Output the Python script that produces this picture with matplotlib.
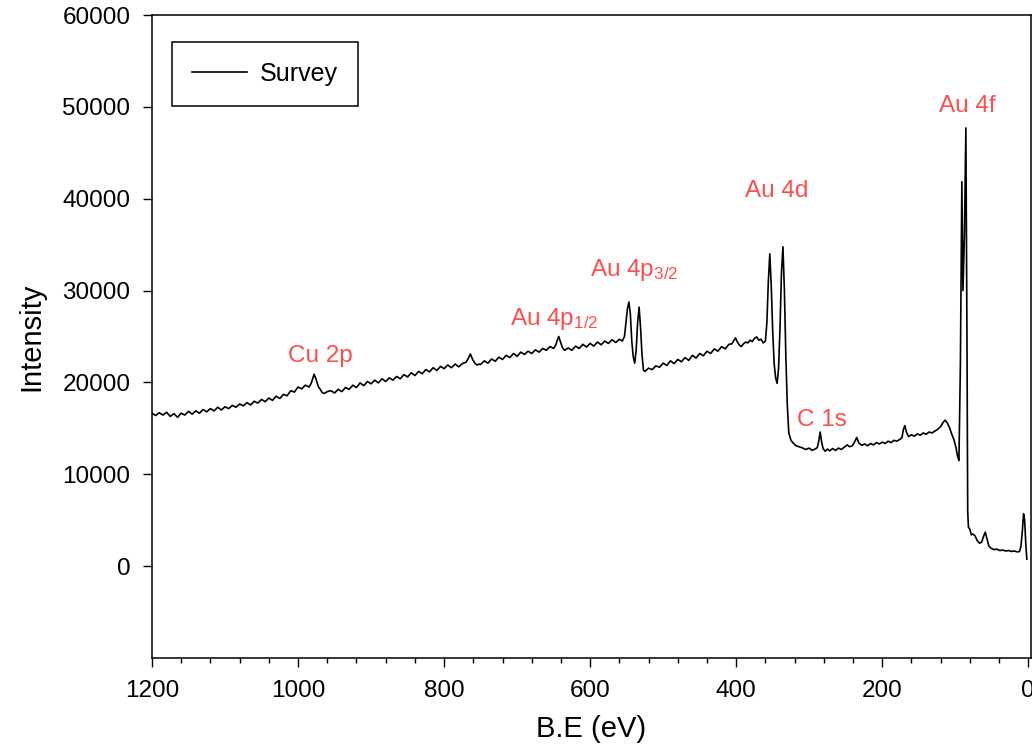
import matplotlib
matplotlib.use("Agg")
import matplotlib.pyplot as plt
from matplotlib.ticker import MultipleLocator

plt.rcParams['font.family'] = ['Liberation Sans', 'DejaVu Sans']
plt.rcParams['mathtext.fontset'] = 'custom'
plt.rcParams['mathtext.rm'] = 'Liberation Sans'
plt.rcParams['mathtext.it'] = 'Liberation Sans'

# survey spectrum (binding energy in eV, counts)
be = [1200, 1195, 1190, 1185, 1180, 1175, 1170, 1165, 1160, 1155,
      1150, 1145, 1140, 1135, 1130, 1125, 1120, 1115, 1110, 1105,
      1100, 1095, 1090, 1085, 1080, 1075, 1070, 1065, 1060, 1055,
      1050, 1045, 1040, 1035, 1030, 1025, 1020, 1015, 1010, 1005,
      1000, 995, 990, 985, 982, 980, 978, 976, 974, 972,
      970, 967, 964, 960, 955, 950, 945, 940, 935, 930,
      925, 920, 915, 910, 905, 900, 895, 890, 885, 880,
      875, 870, 865, 860, 855, 850, 845, 840, 835, 830,
      825, 820, 815, 810, 805, 800, 795, 790, 785, 780,
      775, 770, 767, 764, 761, 758, 755, 752, 750, 745,
      740, 735, 730, 725, 720, 715, 710, 705, 700, 695,
      690, 685, 680, 675, 670, 665, 660, 655, 650, 647,
      645, 643, 641, 638, 635, 630, 625, 620, 615, 610,
      605, 600, 595, 590, 585, 580, 575, 570, 565, 560,
      556, 553, 551, 549, 547, 545, 543, 541, 539, 537,
      535, 533, 531, 529, 527, 525, 520, 515, 510, 505,
      500, 495, 490, 485, 480, 475, 470, 465, 460, 455,
      450, 445, 440, 435, 430, 425, 420, 415, 410, 406,
      403, 401, 399, 396, 393, 390, 387, 384, 381, 378,
      375, 372, 369, 366, 363, 360, 358, 356, 354, 352,
      350, 348, 346, 344, 342, 340, 338, 336, 334, 332,
      330, 328, 325, 322, 318, 314, 310, 305, 300, 296,
      292, 289, 287, 285, 283, 281, 278, 275, 272, 268,
      264, 260, 256, 252, 248, 245, 241, 238, 235, 232,
      228, 224, 220, 216, 212, 208, 204, 200, 196, 192,
      188, 184, 180, 176, 173, 171, 169, 167, 164, 160,
      156, 152, 148, 144, 140, 136, 132, 128, 124, 120,
      117, 114, 111, 108, 105, 102, 99, 97, 95, 93,
      91, 89.5, 87.5, 85.5, 84, 83, 82, 80, 78, 76,
      73, 70, 67, 64, 61, 59, 57, 54, 51, 47,
      43, 39, 35, 31, 27, 23, 19, 15, 12, 10,
      8, 6.5, 5, 3.5, 2]
counts = [16650, 16400, 16700, 16450, 16750, 16300, 16600, 16200, 16650, 16450,
          16850, 16550, 16900, 16650, 17050, 16800, 17150, 16900, 17300, 17000,
          17350, 17150, 17500, 17300, 17650, 17450, 17800, 17550, 17950, 17750,
          18150, 17900, 18300, 18050, 18500, 18250, 18700, 18550, 19100, 18950,
          19500, 19300, 19700, 19500, 19900, 20400, 20900, 20500, 20000, 19500,
          19300, 18900, 18800, 19000, 19100, 18850, 19250, 19000, 19450, 19250,
          19700, 19450, 19950, 19650, 20100, 19850, 20250, 19950, 20400, 20100,
          20500, 20250, 20650, 20400, 20850, 20600, 21050, 20750, 21200, 20950,
          21400, 21150, 21600, 21300, 21750, 21500, 21900, 21600, 22000, 21700,
          22050, 22200, 22600, 23100, 22500, 22100, 21900, 22000, 21950, 22350,
          22100, 22550, 22300, 22750, 22500, 22950, 22700, 23150, 22850, 23300,
          23050, 23400, 23150, 23550, 23300, 23700, 23500, 23900, 23700, 24100,
          24600, 25000, 24500, 23800, 23500, 23750, 23500, 23950, 23700, 24150,
          23850, 24250, 23950, 24400, 24100, 24500, 24250, 24650, 24350, 24700,
          24500, 25000, 26500, 28000, 28750, 27500, 24500, 22800, 22100, 23500,
          26500, 28200, 26000, 23000, 21340, 21200, 21550, 21400, 21800, 21650,
          22100, 21850, 22350, 22050, 22500, 22250, 22700, 22400, 22950, 22650,
          23150, 22900, 23400, 23150, 23650, 23400, 23900, 23650, 24150, 24200,
          24600, 24850, 24500, 24100, 23900, 24200, 24400, 24300, 24600, 24450,
          24800, 24950, 24600, 24700, 24300, 24500, 26500, 31000, 34000, 30500,
          25500, 22000, 20500, 19900, 21500, 26000, 32000, 34770, 30000, 22750,
          17500, 14500, 13700, 13400, 13100, 13000, 12900, 12700, 12850, 12600,
          12750, 12900, 13600, 14600, 13500, 12800, 12500, 12750, 12550, 12800,
          12600, 12850, 12700, 12950, 13200, 13000, 13100, 13500, 14000, 13400,
          13150, 13300, 13100, 13350, 13200, 13450, 13300, 13500, 13350, 13600,
          13450, 13700, 13600, 13800, 14000, 14900, 15300, 14600, 14100, 14300,
          14150, 14400, 14250, 14500, 14350, 14600, 14500, 14700, 14900, 15200,
          15600, 15900, 15600, 15100, 14400, 13800, 12900, 12000, 11500, 22000,
          41850, 30000, 36000, 47700, 25000, 6000, 4250, 4000, 3400, 3500,
          3300, 2800, 2500, 2600, 3300, 3700, 3100, 2200, 1950, 1800,
          1850, 1700, 1750, 1650, 1700, 1600, 1650, 1550, 1600, 2200,
          4000, 5700, 5000, 2500, 760]

peak_names = ['Cu 2p', r'Au 4p$_{1/2}$', r'Au 4p$_{3/2}$', 'Au 4d', 'C 1s', 'Au 4f']
peak_be = [969, 649, 540, 344, 282, 84]
peak_y = [22250, 26250, 31600, 40200, 15250, 49400]

fig = plt.figure(figsize=(10.32, 7.54), dpi=100)
ax = fig.add_axes([152 / 1032, 96 / 754, 878.5 / 1032, 643 / 754])

ax.plot(be, counts, color='black', linewidth=1.2, label='Survey')

for name, x, y in zip(peak_names, peak_be, peak_y):
    ax.text(x, y, name, color='#ff4d4d', fontsize=17.5, ha='center', va='baseline')

ax.set_xlim(1200, -3)
ax.set_ylim(-10000, 60000)
ax.set_xticks([1200, 1000, 800, 600, 400, 200, 0])
ax.set_yticks([0, 10000, 20000, 30000, 40000, 50000, 60000])
ax.xaxis.set_minor_locator(MultipleLocator(40))

ax.tick_params(which='both', direction='out', top=False, right=False,
               labelsize=17.5, width=1, pad=9)
ax.tick_params(which='major', length=6.5)
ax.tick_params(which='minor', length=3.5)
for s in ax.spines.values():
    s.set_linewidth(1.1)

ax.set_xlabel('B.E (eV)', fontsize=21, labelpad=10)
ax.set_ylabel('Intensity', fontsize=21, labelpad=12)

leg = ax.legend(loc='upper left', bbox_to_anchor=(20 / 878.5, 1 - 27 / 643),
                borderaxespad=0, fancybox=False, edgecolor='black',
                framealpha=1, fontsize=18, handlelength=2.2,
                handletextpad=0.5, borderpad=0.8)
leg.get_frame().set_linewidth(1.1)

fig.savefig('out.png', dpi=100)
